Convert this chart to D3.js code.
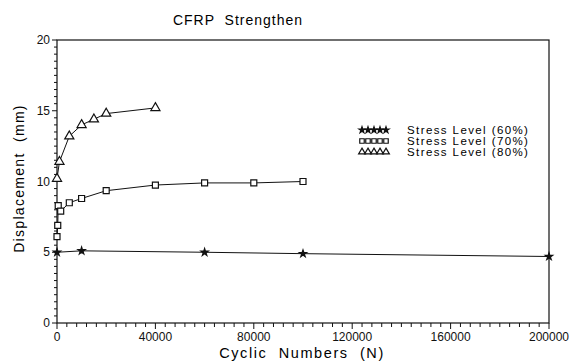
<!DOCTYPE html>
<html>
<head>
<meta charset="utf-8">
<script src="https://cdn.jsdelivr.net/npm/d3@7"></script>
<style>
  body { margin: 0; background: #fff; }
  svg { display: block; font-family: "Liberation Sans", "DejaVu Sans", sans-serif; }
  svg text { white-space: pre; }
  .tick-label { font-size: 12px; fill: #111; }
</style>
</head>
<body>
<div id="chart"></div>
<script>
  // series
  const stress60 = [
    [0, 5.0], [10000, 5.1], [60000, 5.0], [100000, 4.9], [200000, 4.7],
  ];
  const stress70 = [
    [0, 6.1], [300, 6.9], [500, 8.3], [1500, 7.9], [5000, 8.5],
    [10000, 8.8], [20000, 9.35], [40000, 9.75], [60000, 9.9],
    [80000, 9.9], [100000, 10.0],
  ];
  const stress80 = [
    [0, 10.2], [1000, 11.4], [5000, 13.2], [10000, 14.0],
    [15000, 14.4], [20000, 14.8], [40000, 15.2],
  ];
  const legendLabels = [
    "Stress Level (60%)", "Stress Level (70%)", "Stress Level (80%)",
  ];
  const xTicks = [0, 40000, 80000, 120000, 160000, 200000];
  const yTicks = [0, 5, 10, 15, 20];

  const W = 584, H = 361;
  const margin = { top: 40, right: 35, bottom: 38, left: 57 };

  const svg = d3.select("#chart").append("svg")
    .attr("width", W).attr("height", H);

  const x = d3.scaleLinear().domain([0, 200000]).range([margin.left, W - margin.right]);
  const y = d3.scaleLinear().domain([0, 20]).range([H - margin.bottom, margin.top]);

  // frame
  svg.append("rect")
    .attr("x", x(0)).attr("y", y(20))
    .attr("width", x(200000) - x(0)).attr("height", y(0) - y(20))
    .attr("fill", "none").attr("stroke", "#111").attr("stroke-width", 1.2);

  // x axis ticks
  const xMinor = d3.range(0, 200001, 4000);
  svg.append("g").selectAll("line").data(xMinor).join("line")
    .attr("x1", (d) => x(d)).attr("x2", (d) => x(d))
    .attr("y1", y(0)).attr("y2", (d) => y(0) + (d % 40000 === 0 ? 6 : 4))
    .attr("stroke", "#111");
  svg.append("g").selectAll("text").data(xTicks).join("text")
    .attr("class", "tick-label")
    .attr("x", (d) => x(d)).attr("y", y(0) + 18)
    .attr("text-anchor", "middle")
    .text((d) => d);

  // y axis ticks
  const yMinor = d3.range(0, 20.01, 0.5);
  svg.append("g").selectAll("line").data(yMinor).join("line")
    .attr("x1", (d) => x(0) - (d % 5 === 0 ? 5 : 3)).attr("x2", x(0))
    .attr("y1", (d) => y(d)).attr("y2", (d) => y(d))
    .attr("stroke", "#111");
  svg.append("g").selectAll("text").data(yTicks).join("text")
    .attr("class", "tick-label")
    .attr("x", x(0) - 7).attr("y", (d) => y(d) + 4)
    .attr("text-anchor", "end")
    .text((d) => d);

  // titles
  svg.append("text")
    .attr("x", 238).attr("y", 25)
    .attr("text-anchor", "middle")
    .style("font-size", "14px").style("letter-spacing", "1px")
    .text("CFRP  Strengthen");
  svg.append("text")
    .attr("transform", `translate(24, ${y(10) - 3}) rotate(-90)`)
    .attr("text-anchor", "middle")
    .style("font-size", "14px").style("letter-spacing", "1.3px")
    .text("Displacement  (mm)");
  svg.append("text")
    .attr("x", 302).attr("y", 358)
    .attr("text-anchor", "middle")
    .style("font-size", "14.5px").style("letter-spacing", "1.6px")
    .text("Cyclic  Numbers  (N)");

  const line = d3.line().x((d) => x(d[0])).y((d) => y(d[1]));

  const series = [
    { data: stress60, type: d3.symbolStar, size: 16, legendSize: 12, fill: "#111" },
    { data: stress70, type: d3.symbolSquare, size: 36, legendSize: 20, fill: "#fff" },
    { data: stress80, type: d3.symbolTriangle, size: 36, legendSize: 20, fill: "#fff" },
  ];

  series.forEach((s) => {
    svg.append("path")
      .attr("d", line(s.data))
      .attr("fill", "none").attr("stroke", "#111").attr("stroke-width", 1);
    svg.append("g").selectAll("path").data(s.data).join("path")
      .attr("transform", (d) => `translate(${x(d[0])}, ${y(d[1])})`)
      .attr("d", d3.symbol().type(s.type).size(s.size))
      .attr("fill", s.fill).attr("stroke", "#111").attr("stroke-width", 1.2);
  });

  // legend
  const legend = svg.append("g").attr("transform", "translate(362, 130)");
  series.forEach((s, i) => {
    const row = legend.append("g").attr("transform", `translate(0, ${i * 11})`);
    row.selectAll("path").data(d3.range(5)).join("path")
      .attr("transform", (d) => `translate(${d * 6}, 0)`)
      .attr("d", d3.symbol().type(s.type).size(s.legendSize))
      .attr("fill", s.fill).attr("stroke", "#111").attr("stroke-width", 1.2);
    row.append("text")
      .attr("x", 45).attr("y", 4)
      .style("font-size", "11.5px").style("letter-spacing", "1.4px")
      .text(legendLabels[i]);
  });
</script>
</body>
</html>
